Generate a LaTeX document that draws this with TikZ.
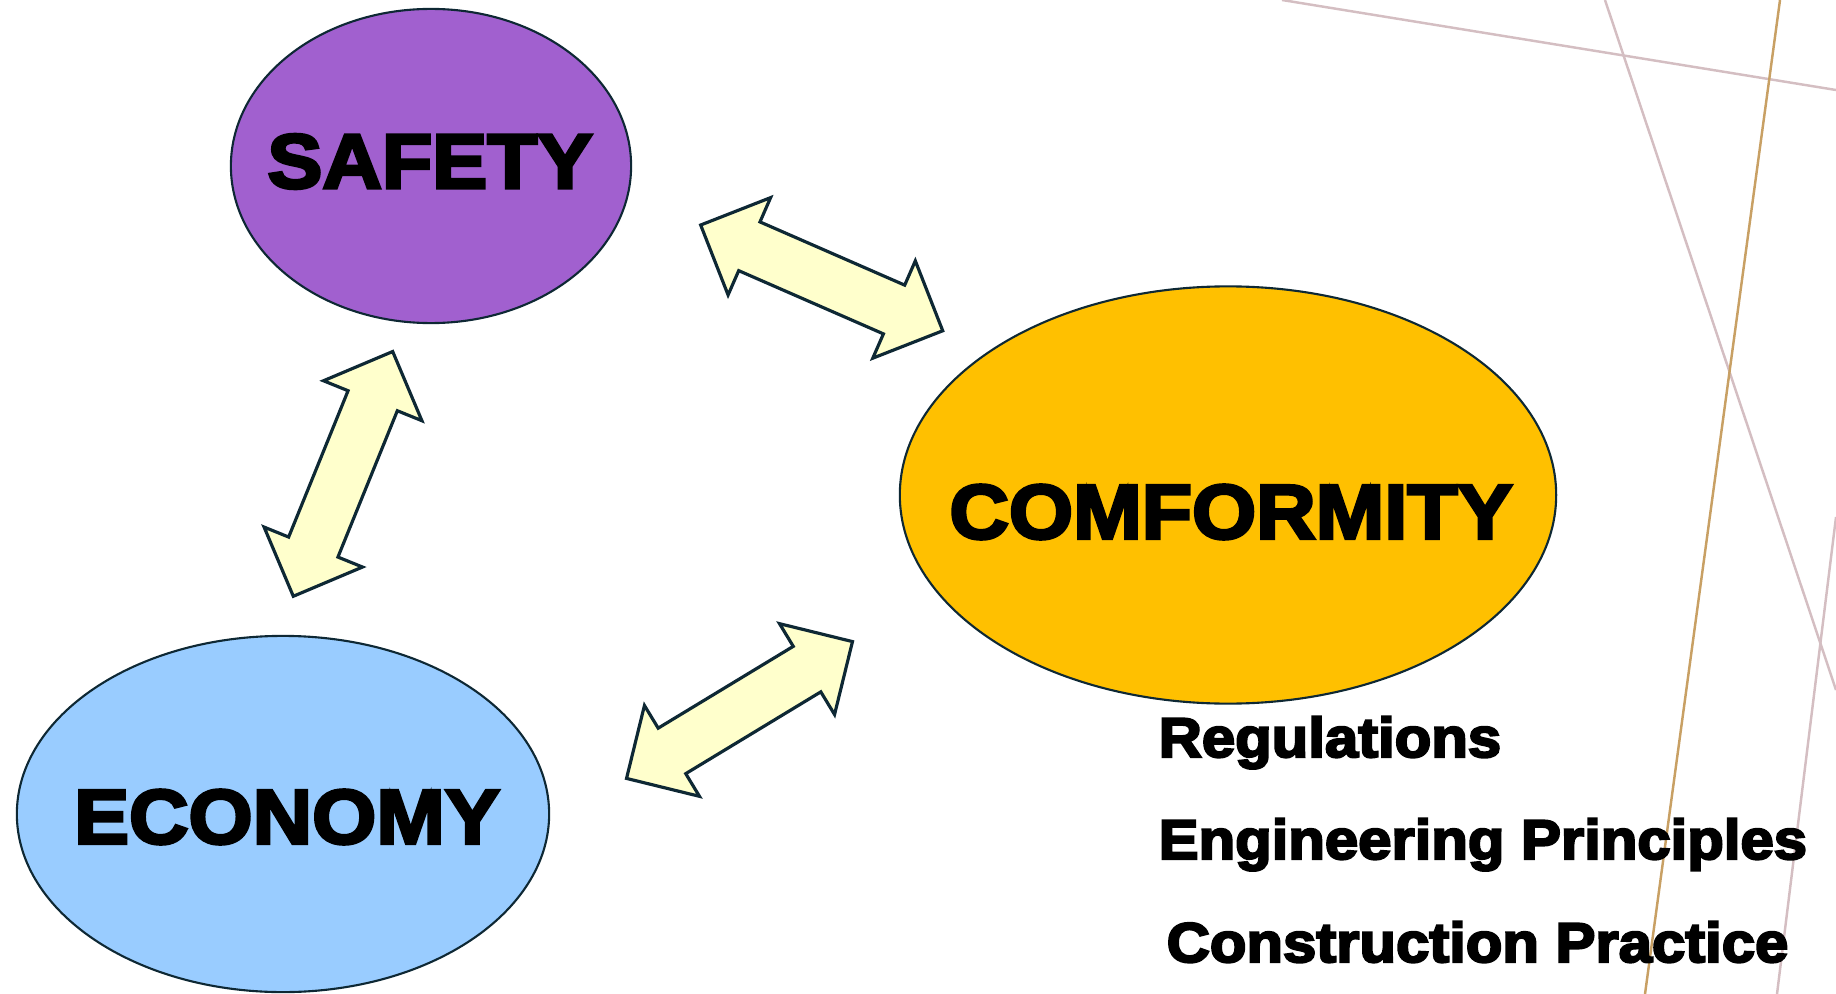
\documentclass[tikz,border=0pt]{standalone}
\usepackage{fontspec}
\usetikzlibrary{shapes.geometric,shapes.arrows}
\newfontfamily\heavyfont{Liberation Sans Bold}[FakeStretch=1.07,FakeBold=4]
\definecolor{safetypurple}{RGB}{161,96,207}
\definecolor{comfgold}{RGB}{255,192,0}
\definecolor{economyblue}{RGB}{153,204,255}
\definecolor{arrowfill}{RGB}{255,255,204}
\definecolor{edgenavy}{RGB}{14,40,52}
\definecolor{linepink}{RGB}{212,190,194}
\definecolor{linetan}{RGB}{200,160,100}

\begin{document}
\begin{tikzpicture}[x=0.01cm,y=-0.01cm,
    bubble/.style={ellipse,draw=edgenavy,line width=0.6pt,inner sep=0},
    bigword/.style={font=\heavyfont\fontsize{21.9}{26}\selectfont,inner sep=0},
    smallword/.style={font=\heavyfont\fontsize{15.9}{19}\selectfont,inner sep=0,anchor=base west},
    twoway/.style={double arrow,draw=edgenavy,fill=arrowfill,line width=0.9pt,
        minimum height=2.64cm,inner xsep=0,inner ysep=0.25cm,double arrow head extend=0.265cm},
    thinline/.style={line width=0.7pt}]
    \useasboundingbox (0,0) rectangle (1836,994);
    % lines in the corner
    \draw[thinline,draw=linepink] (1282,0) -- (1836,90);
    \draw[thinline,draw=linepink] (1605,0) -- (1836,690);
    \draw[thinline,draw=linepink] (1836,517) -- (1777,994);
    \draw[thinline,draw=linetan] (1780,0) -- (1645,994);
    % the three ellipses
    \node[bubble,fill=safetypurple,minimum width=4cm,minimum height=3.14cm] (safety) at (431,166) {};
    \node[bubble,fill=comfgold,minimum width=6.56cm,minimum height=4.17cm] (comf) at (1228,495) {};
    \node[bubble,fill=economyblue,minimum width=5.32cm,minimum height=3.56cm] (economy) at (283,814) {};
    \node[bigword] (safetyword) at (430,161.5) {SAFETY};
    \node[bigword] (comfword) at (1231,512) {COMFORMITY};
    \node[bigword] (economyword) at (287,817) {ECONOMY};
    % block arrows between them
    \node[twoway,rotate=-23.6] (safetycomf) at (821.7,277.9) {};
    \node[twoway,rotate=67.9] (safetyeconomy) at (343,473.9) {};
    \node[twoway,rotate=31.2] (economycomf) at (739.5,710) {};
    % what comformity means
    \node[smallword] (regs) at (1158,757) {Regulations};
    \node[smallword] (principles) at (1158,859) {Engineering Principles};
    \node[smallword] (practice) at (1166,962) {Construction Practice};
\end{tikzpicture}
\end{document}
